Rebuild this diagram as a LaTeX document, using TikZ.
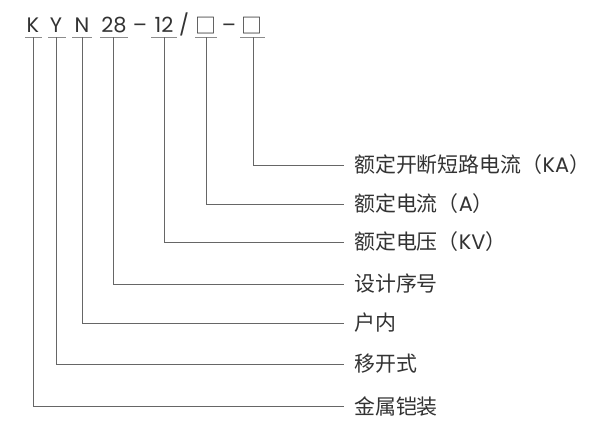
\documentclass[tikz,border=0pt]{standalone}
\usepackage{fontspec}
\setmainfont{Poppins}
\newfontfamily\cjk{Noto Sans CJK SC}
\begin{document}
\begin{tikzpicture}[x=1bp,y=-1bp,
  ch/.style={anchor=base,inner sep=0pt,font=\fontsize{21}{23}\selectfont,text=black!80},
  lbl/.style={anchor=west,inner xsep=10bp,inner ysep=0pt,font=\fontsize{21}{23}\selectfont,text=black!80},
  uline/.style={draw=black!45,line width=0.9bp},
  conn/.style={draw=black!60,line width=0.8bp}]
\useasboundingbox[fill=white] (0,0) rectangle (598,430);
% top code characters
\node[ch] (k) at (33,32) {K};
\node[ch] (y) at (56,32) {Y};
\node[ch] (n) at (82,32) {N};
\node[ch] (d28) at (114,32) {28};
\node[ch] (m1) at (140,32) {–};
\node[ch] (d12) at (164,32) {12};
\node[ch] (sl) at (184,32) {/};
\node[ch] (b1) at (206,33) {\cjk □};
\node[ch] (m2) at (229,32) {–};
\node[ch] (b2) at (252,33) {\cjk □};
% underlines
\draw[uline] (25,37) -- (42,37);
\draw[uline] (48,37) -- (66,37);
\draw[uline] (72,37) -- (92,37);
\draw[uline] (100,37) -- (128,37);
\draw[uline] (151,37) -- (177,37);
\draw[uline] (195,37) -- (217,37);
\draw[uline] (240,37) -- (265,37);
\coordinate (ku) at (33,37);
\coordinate (yu) at (56,37);
\coordinate (nu) at (82,37);
\coordinate (du) at (113,37);
\coordinate (vu) at (164,37);
\coordinate (au) at (206,37);
\coordinate (ka) at (253,37);
% labels
\node[lbl] (l1) at (344,165) {{\cjk 额定开断短路电流（}KA{\cjk ）}};
\node[lbl] (l2) at (344,204) {{\cjk 额定电流（}A{\cjk ）}};
\node[lbl] (l3) at (344,242) {{\cjk 额定电压（}KV{\cjk ）}};
\node[lbl] (l4) at (344,284) {\cjk 设计序号};
\node[lbl] (l5) at (344,323) {\cjk 户内};
\node[lbl] (l6) at (344,364) {\cjk 移开式};
\node[lbl] (l7) at (344,406) {\cjk 金属铠装};
% connectors
\draw[conn] (ka) |- (l1.west);
\draw[conn] (au) |- (l2.west);
\draw[conn] (vu) |- (l3.west);
\draw[conn] (du) |- (l4.west);
\draw[conn] (nu) |- (l5.west);
\draw[conn] (yu) |- (l6.west);
\draw[conn] (ku) |- (l7.west);
\end{tikzpicture}
\end{document}
